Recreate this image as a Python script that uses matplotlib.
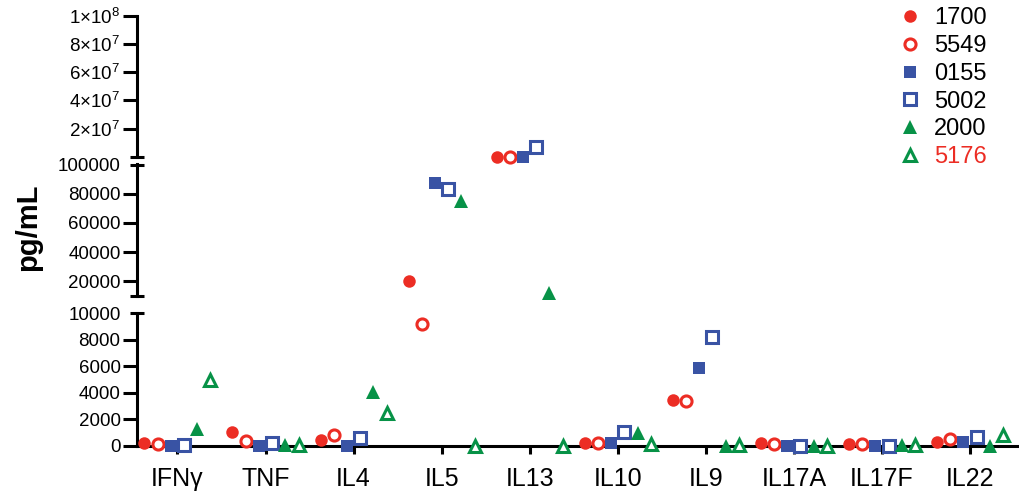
import numpy as np
import matplotlib
matplotlib.use("Agg")
import matplotlib.pyplot as plt

plt.rcParams['font.family'] = ['Liberation Sans', 'DejaVu Sans']
plt.rcParams['mathtext.fontset'] = 'custom'
plt.rcParams['mathtext.rm'] = 'Liberation Sans'
plt.rcParams['mathtext.it'] = 'Liberation Sans:italic'
plt.rcParams['mathtext.bf'] = 'Liberation Sans:bold'

# cytokines on the x axis
cytokines = ['IFNγ', 'TNF', 'IL4', 'IL5', 'IL13', 'IL10', 'IL9', 'IL17A', 'IL17F', 'IL22']

# pg/mL per donor
s1700 = [200, 1050, 430, 20000, 150000, 250, 3500, 200, 150, 330]
s5549 = [150, 400, 800, 9200, 150000, 200, 3400, 150, 150, 500]
s0155 = [30, 20, 30, 87000, 110000, 250, 5900, 20, 20, 300]
s5002 = [50, 250, 600, 83000, 7000000, 1050, 8200, 30, 30, 650]
s2000 = [1300, 80, 4100, 75000, 12000, 1000, 10, 30, 100, 20]
s5176 = [5000, 100, 2500, 20, 20, 150, 50, 20, 50, 830]

donors = ['1700', '5549', '0155', '5002', '2000', '5176']
series = [s1700, s5549, s0155, s5002, s2000, s5176]

top_ticks = [2e7, 4e7, 6e7, 8e7, 1e8]
top_labels = ['2×10$^{7}$', '4×10$^{7}$', '6×10$^{7}$', '8×10$^{7}$', '1×10$^{8}$']
mid_ticks = [20000, 40000, 60000, 80000, 100000]
low_ticks = [0, 2000, 4000, 6000, 8000, 10000]

red = '#EC2D24'
blue = '#3953A4'
green = '#079247'
styles = [
    dict(marker='o', ms=9.0, mfc=red, mec=red, mew=0),
    dict(marker='o', ms=8.0, mfc='white', mec=red, mew=2.2),
    dict(marker='s', ms=8.4, mfc=blue, mec=blue, mew=0),
    dict(marker='s', ms=8.2, mfc='white', mec=blue, mew=2.2),
    dict(marker='^', ms=9.6, mfc=green, mec=green, mew=0),
    dict(marker='^', ms=8.2, mfc='white', mec=green, mew=2.2),
]

W, H = 1019, 496
fig = plt.figure(figsize=(W / 100, H / 100), dpi=100)

left = 136.5 / W
width = 1 - left
def px_axes(y_top, y_bot):
    return fig.add_axes([left, 1 - y_bot / H, width, (y_bot - y_top) / H])

ax_top = px_axes(15.7, 156.7)
ax_mid = px_axes(164.5, 296.0)
ax_low = px_axes(313.3, 446.0)

ranges = [(ax_top, 1e5, 1e8), (ax_mid, 1e4, 1e5), (ax_low, 0, 1e4)]
x = np.arange(len(cytokines))
offsets = (np.arange(6) - 2.5) * 0.15

handles = []
for i, (vals, st) in enumerate(zip(series, styles)):
    v = np.array(vals, dtype=float)
    for ax, lo, hi in ranges:
        if lo == 0:
            m = v <= hi
        else:
            m = (v > lo) & (v <= hi)
        ln, = ax.plot(x[m] + offsets[i], v[m], linestyle='none', clip_on=False,
                      zorder=5, **st)
        if ax is ax_low:
            handles.append(ln)

lw = 2.2
for ax, lo, hi in ranges:
    ax.set_xlim(-0.465, 9.557)
    ax.set_ylim(lo, hi)
    ax.set_facecolor('none')
    for s in ['top', 'right']:
        ax.spines[s].set_visible(False)
    ax.spines['left'].set_linewidth(lw)
    ax.spines['bottom'].set_linewidth(lw)
    ax.tick_params(axis='y', direction='out', length=10, width=lw,
                   labelsize=13.5, pad=1.5)
    if ax is not ax_low:
        ax.spines['bottom'].set_visible(False)
        ax.set_xticks([])

ax_top.set_yticks(top_ticks)
ax_top.set_yticklabels(top_labels)
ax_mid.set_yticks(mid_ticks)
ax_mid.set_yticklabels([str(t) for t in mid_ticks])
ax_mid.yaxis.get_major_ticks()[-1].tick1line.set_visible(False)
ax_low.set_yticks(low_ticks)
ax_low.set_yticklabels([str(t) for t in low_ticks])
ax_low.yaxis.get_major_ticks()[-1].tick1line.set_visible(False)

ax_low.set_xticks(x)
ax_low.set_xticklabels(cytokines)
ax_low.tick_params(axis='x', direction='out', length=6, width=lw,
                   labelsize=18, pad=9)

# break caps on the axis ends
for ax, ends in [(ax_top, [0]), (ax_mid, [0, 1]), (ax_low, [1])]:
    for e in ends:
        ax.plot(0, e, marker='_', ms=9.5, mew=lw, color='black',
                transform=ax.transAxes, clip_on=False, zorder=6)

fig.text(28.5 / W, 1 - 227 / H, 'pg/mL', rotation=90, fontsize=21,
         fontweight='bold', ha='center', va='center')

leg = fig.legend(handles, donors, loc='upper right',
                 bbox_to_anchor=(987 / W, 1 - 7.5 / H), frameon=False,
                 fontsize=17, handlelength=1.0, handletextpad=0.54,
                 labelspacing=0.24, borderpad=0, borderaxespad=0)
leg.get_texts()[-1].set_color(red)

fig.savefig('out.png', dpi=100)
